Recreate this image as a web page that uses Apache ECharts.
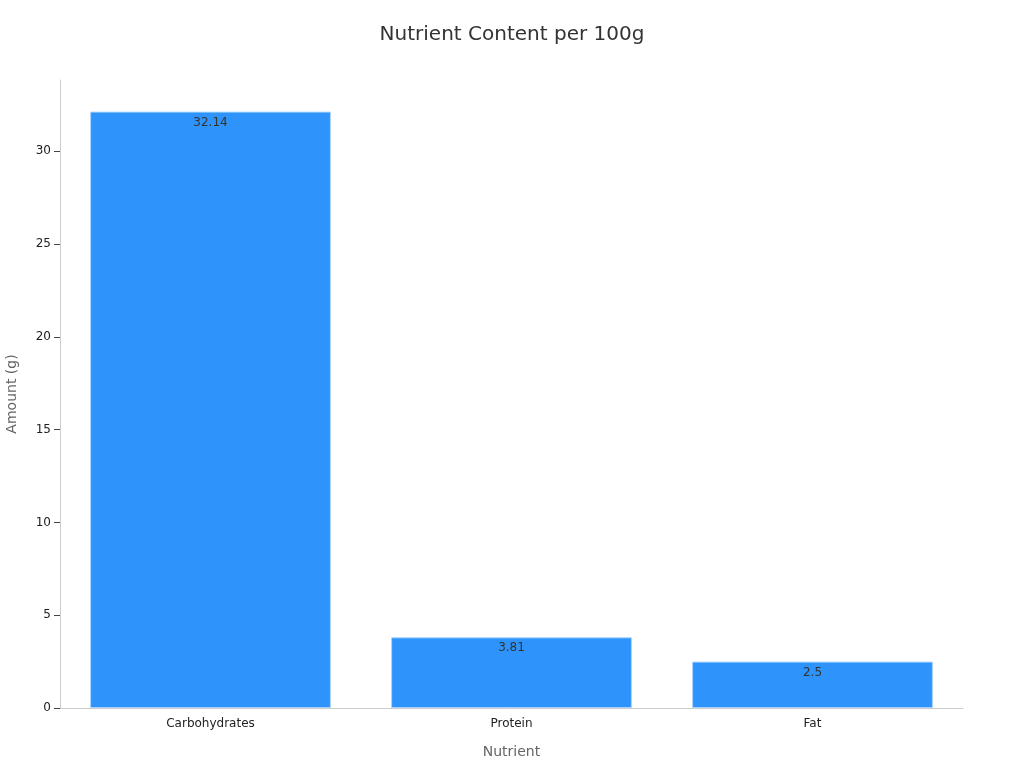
<!DOCTYPE html>
<html>
<head>
<meta charset="utf-8">
<script src="https://cdn.jsdelivr.net/npm/echarts@6/dist/echarts.min.js"></script>
<style>
html,body{margin:0;padding:0;background:#fff;}
#chart{width:1024px;height:768px;}
</style>
</head>
<body>
<div id="chart"></div>
<script>
const categories = ["Carbohydrates", "Protein", "Fat"];
const amounts = [32.14, 3.81, 2.5];

const chart = echarts.init(document.getElementById('chart'), null, {renderer: 'canvas'});
chart.setOption({
  animation: false,
  textStyle: {fontFamily: 'DejaVu Sans'},
  title: {
    text: 'Nutrient Content per 100g',
    left: 'center',
    top: 20,
    textStyle: {fontSize: 20, fontWeight: 'normal', color: '#333', fontFamily: 'DejaVu Sans'}
  },
  grid: {left: 60, right: 61, top: 80, bottom: 60, containLabel: false, outerBoundsMode: 'none'},
  xAxis: {
    type: 'category',
    data: categories,
    name: 'Nutrient',
    nameLocation: 'middle',
    nameGap: 37,
    nameTextStyle: {fontSize: 14, color: '#666'},
    axisLine: {lineStyle: {color: '#ccc'}},
    axisTick: {alignWithLabel: true, length: 6, lineStyle: {color: '#444'}},
    axisLabel: {fontSize: 12, color: '#222', margin: 10}
  },
  yAxis: {
    type: 'value',
    min: 0,
    max: function (v) { return v.max * 1.053; },
    interval: 5,
    name: 'Amount (g)',
    nameLocation: 'middle',
    nameGap: 41,
    nameTextStyle: {fontSize: 14, color: '#666'},
    axisLine: {show: true, lineStyle: {color: '#ccc'}},
    axisTick: {show: true, length: 6, lineStyle: {color: '#444'}},
    axisLabel: {fontSize: 12, color: '#222', margin: 9, showMaxLabel: false},
    splitLine: {show: false}
  },
  series: [{
    type: 'bar',
    data: amounts,
    barCategoryGap: '20%',
    itemStyle: {color: '#2E93FA', borderColor: '#A8D4FF', borderWidth: 1},
    label: {
      show: true,
      position: 'insideTop',
      distance: 5,
      color: '#333',
      fontSize: 12
    }
  }]
});
</script>
</body>
</html>
